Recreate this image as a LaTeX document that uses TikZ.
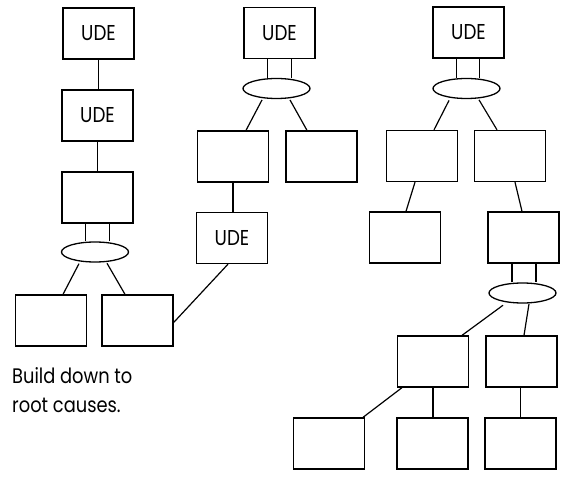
\documentclass[tikz,border=0pt]{standalone}
\usepackage{fontspec}
\setmainfont{Poppins}[FakeStretch=0.85]
\usetikzlibrary{shapes.geometric}
\begin{document}
\begin{tikzpicture}[x=1pt,y=-1pt,
  box/.style={draw, line width=1.3pt, minimum width=71pt, minimum height=51pt, inner sep=0pt, font=\fontsize{21.5}{24}\selectfont},
  andnode/.style={draw, ellipse, line width=1.3pt, minimum width=67pt, minimum height=20pt, inner sep=0pt},
  conn/.style={line width=1.2pt},
  lbl/.style={anchor=base west, inner sep=0pt, font=\fontsize{21}{24}\selectfont}]
\useasboundingbox (0,0) rectangle (572,478);
% column 1
\node[box] (u1) at (98.5,33.5) {\raisebox{-2pt}{UDE}};
\node[box] (u2) at (97.5,115.5) {\raisebox{-2pt}{UDE}};
\node[box] (b3) at (97.5,197.5) {};
\node[andnode] (e1) at (95,252) {};
\node[box] (LL) at (51,320.5) {};
\node[box] (LR) at (137.5,320.5) {};
% column 2
\node[box] (u3) at (279.5,33) {\raisebox{-2pt}{UDE}};
\node[andnode] (e2) at (276.5,88.5) {};
\node[box] (A) at (233,156.5) {};
\node[box] (B) at (321.5,156.5) {};
\node[box] (u4) at (232,238) {\raisebox{-2pt}{UDE}};
% column 3
\node[box] (u5) at (468.5,32.5) {\raisebox{-2pt}{UDE}};
\node[andnode] (e3) at (466.5,88.5) {};
\node[box] (C) at (422,156) {};
\node[box] (D) at (510,156) {};
\node[box] (E) at (405,237.5) {};
\node[box] (F) at (523.5,237.5) {};
\node[andnode] (e4) at (522.5,293) {};
\node[box] (G) at (433,361.5) {};
\node[box] (H) at (521.5,361.5) {};
\node[box] (I) at (329,443.5) {};
\node[box] (J) at (432.5,443.5) {};
\node[box] (K) at (520.5,443.5) {};
% text
\node[lbl] (t1) at (12,383) {Build down to};
\node[lbl] (t2) at (12,412) {root causes.};
% connectors column 1
\draw[conn] (u1.south) -- (u1.south |- u2.north);
\draw[conn] (u2.south) -- (u2.south |- b3.north);
\draw[conn] ([xshift=-12pt]b3.south) -- ([xshift=-12pt]b3.south |- e1.north);
\draw[conn] ([xshift=12pt]b3.south) -- ([xshift=12pt]b3.south |- e1.north);
\draw[conn] ([xshift=-16pt,yshift=-1pt]e1.south) -- ([xshift=12pt]LL.north);
\draw[conn] ([xshift=12pt,yshift=-0.6pt]e1.south) -- ([xshift=-12.5pt]LR.north);
% column 2
\draw[conn] ([xshift=-12pt]u3.south) -- ([xshift=-12pt]u3.south |- e2.north);
\draw[conn] ([xshift=12pt]u3.south) -- ([xshift=12pt]u3.south |- e2.north);
\draw[conn] ([xshift=-14.5pt,yshift=-0.8pt]e2.south) -- ([xshift=13pt]A.north);
\draw[conn] ([xshift=13.5pt,yshift=-0.8pt]e2.south) -- ([xshift=-14.5pt]B.north);
\draw[conn] (A.south) -- (A.south |- u4.north);
\draw[conn] ([xshift=-4pt]u4.south) -- ([yshift=-2pt]LR.east);
% column 3
\draw[conn] ([xshift=-12pt]u5.south) -- ([xshift=-12pt]u5.south |- e3.north);
\draw[conn] ([xshift=11pt]u5.south) -- ([xshift=11pt]u5.south |- e3.north);
\draw[conn] ([xshift=-17.5pt,yshift=-1.3pt]e3.south) -- ([xshift=12pt]C.north);
\draw[conn] ([xshift=12.5pt,yshift=-0.7pt]e3.south) -- ([xshift=-13pt]D.north);
\draw[conn] ([xshift=-7pt]C.south) -- ([xshift=1pt]E.north);
\draw[conn] ([xshift=5pt]D.south) -- ([xshift=-1.5pt]F.north);
\draw[conn] ([xshift=-11.5pt]F.south) -- ([xshift=-11.5pt]F.south |- e4.north);
\draw[conn] ([xshift=12.5pt]F.south) -- ([xshift=12.5pt]F.south |- e4.north);
\draw[conn] ([xshift=-19.5pt,yshift=-1.6pt]e4.south) -- ([xshift=29pt]G.north);
\draw[conn] ([xshift=6.5pt,yshift=-0.2pt]e4.south) -- ([xshift=2.5pt]H.north);
\draw[conn] ([xshift=-31pt]G.south) -- ([xshift=34pt]I.north);
\draw[conn] (G.south) -- (G.south |- J.north);
\draw[conn] ([xshift=-1pt]H.south) -- ([xshift=-1pt]H.south |- K.north);
\end{tikzpicture}
\end{document}
